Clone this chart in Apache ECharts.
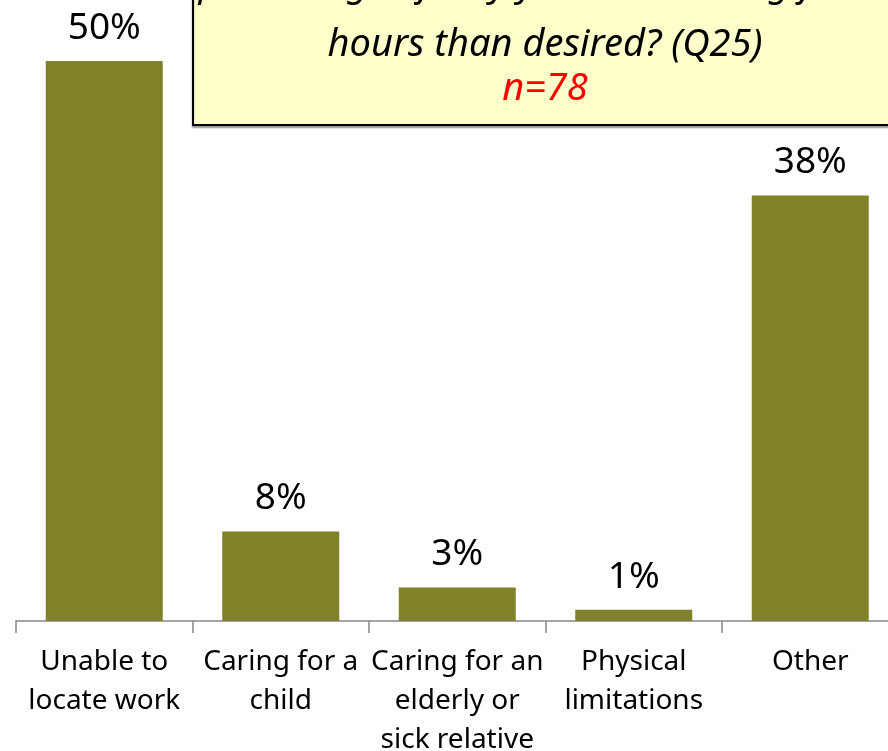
<!DOCTYPE html>
<html>
<head>
<meta charset="utf-8">
<script src="https://cdn.jsdelivr.net/npm/echarts@6/dist/echarts.min.js"></script>
<style>
  html, body { margin: 0; padding: 0; background: #fff; }
  #chart { width: 888px; height: 751px; }
</style>
</head>
<body>
<div id="chart"></div>
<script>
const categories = ['Unable to\nlocate work', 'Caring for a\nchild', 'Caring for an\nelderly or\nsick relative', 'Physical\nlimitations', 'Other']
const shares = [50, 8, 3, 1, 38]
const titleLines = ['percentage of why you are working fewer', 'hours than desired? (Q25)']
const sampleNote = 'n=78'

const chart = echarts.init(document.getElementById('chart'))

chart.setOption({
  animation: false,
  grid: {
    left: 16,
    right: -10.5,
    top: 61,
    bottom: 130,
    outerBoundsMode: 'none',
    containLabel: false
  },
  xAxis: {
    type: 'category',
    data: categories,
    axisLine: { lineStyle: { color: '#868686', width: 1.5 } },
    axisTick: { show: true, length: 12, alignWithLabel: false, lineStyle: { color: '#868686', width: 1.5 } },
    axisLabel: {
      interval: 0,
      margin: 22,
      color: '#000',
      fontFamily: 'Noto Sans',
      fontSize: 28,
      lineHeight: 39
    }
  },
  yAxis: {
    type: 'value',
    min: 0,
    max: 50,
    show: false,
    splitLine: { show: false }
  },
  series: [
    {
      type: 'bar',
      data: shares,
      barWidth: 117,
      itemStyle: { color: '#7f8228' },
      label: {
        show: true,
        position: 'top',
        distance: 14,
        formatter: '{c}%',
        color: '#000',
        fontFamily: 'Noto Sans',
        fontSize: 37
      }
    }
  ],
  graphic: [
    {
      type: 'rect',
      shape: { x: 193, y: -60, width: 740, height: 185 },
      style: { fill: '#ffffcc', stroke: '#000', lineWidth: 2, shadowColor: 'rgba(0,0,0,0.35)', shadowOffsetY: 2, shadowBlur: 2 },
      z: 10
    },
    {
      type: 'text',
      x: 545, y: -15,
      style: {
        text: titleLines[0], fill: '#000', font: 'italic 38px "Noto Sans"',
        align: 'center', verticalAlign: 'middle'
      },
      z: 11
    },
    {
      type: 'text',
      x: 545, y: 45,
      style: {
        text: titleLines[1], fill: '#000', font: 'italic 38px "Noto Sans"',
        align: 'center', verticalAlign: 'middle'
      },
      z: 11
    },
    {
      type: 'text',
      x: 545, y: 89,
      style: {
        text: sampleNote, fill: '#ff0000', font: 'italic 38px "Noto Sans"',
        align: 'center', verticalAlign: 'middle'
      },
      z: 11
    }
  ]
})
</script>
</body>
</html>
